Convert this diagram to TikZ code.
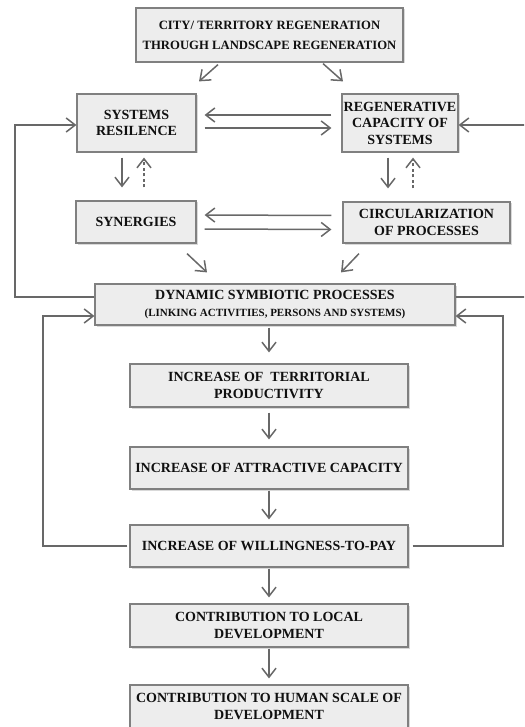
\documentclass[tikz,border=0pt]{standalone}
\usepackage{fontspec}
\setmainfont{Liberation Serif}
\usetikzlibrary{arrows.meta,shadows,calc}

\definecolor{boxfill}{HTML}{EDEDED}
\definecolor{boxline}{HTML}{808080}
\definecolor{linkgray}{HTML}{686868}
\definecolor{txtgray}{HTML}{101010}

\begin{document}
\begin{tikzpicture}[x=1pt,y=1pt]
%%%%%%%%%%%%%%%%%%%%%%%%%%%%%%%%%%%%%%%%%%%%%%%%%%%%%%%%
% STYLE
\tikzstyle{case}=[rectangle,draw=boxline,fill=boxfill,line width=1.2pt,align=center,inner sep=1pt,text=txtgray,font=\bfseries\fontsize{14}{16.5}\selectfont,drop shadow={shadow xshift=1.5pt,shadow yshift=-1.5pt,opacity=0.3}]
\tikzstyle{head}=[case,font=\bfseries\fontsize{12.7}{20}\selectfont]

\tikzset{link/.style={-{Straight Barb[length=9pt,width=14pt]},draw=linkgray,line width=1.5pt}}
\tikzset{dlink/.style={link,dash pattern=on 3pt off 2.5pt}}

\useasboundingbox (0,0) rectangle (524,-727);
\clip (0,0) rectangle (524,-727);

%%%%%%%%%%%%%%%%%%%%%%%%%%%%%%%%%%%%%%%%%%%%%%%%%%%%%%%%
% NODES
\node[head,minimum width=267,minimum height=54] (top) at (269.5,-35) {CITY/ TERRITORY REGENERATION\\THROUGH LANDSCAPE REGENERATION};

\node[case,minimum width=119,minimum height=58] (res) at (136.5,-123) {SYSTEMS\\RESILENCE};
\node[case,minimum width=116,minimum height=58] (reg) at (400,-123) {REGENERATIVE\\CAPACITY OF\\SYSTEMS};

\node[case,minimum width=120,minimum height=42] (syn) at (136,-222) {SYNERGIES};
\node[case,minimum width=167,minimum height=41] (circ) at (426.5,-222.5) {CIRCULARIZATION\\OF PROCESSES};

\node[case,minimum width=360,minimum height=41] (dsp) at (275,-304.5) {DYNAMIC SYMBIOTIC PROCESSES\\{\fontsize{11}{13}\selectfont (LINKING ACTIVITIES, PERSONS AND SYSTEMS)}};

\node[case,minimum width=278,minimum height=43] (prod) at (269,-385.5) {INCREASE OF\ \ TERRITORIAL\\PRODUCTIVITY};
\node[case,minimum width=278,minimum height=42] (attr) at (269,-468) {INCREASE OF ATTRACTIVE CAPACITY};
\node[case,minimum width=278,minimum height=42] (pay) at (269,-546) {INCREASE OF WILLINGNESS-TO-PAY};
\node[case,minimum width=278,minimum height=43] (loc) at (269,-625.5) {CONTRIBUTION TO LOCAL\\DEVELOPMENT};
\node[case,minimum width=278,minimum height=43] (hum) at (269,-706.5) {CONTRIBUTION TO HUMAN SCALE OF\\DEVELOPMENT};

\coordinate (fbl) at (15,-125);
\coordinate (fbr) at (527,-125);
\coordinate (lbl) at (43,-316);
\coordinate (lbr) at (503,-316);

%%%%%%%%%%%%%%%%%%%%%%%%%%%%%%%%%%%%%%%%%%%%%%%%%%%%%%%%
% LINKS
\draw[link] ([shift={(-51.5,-2)}]top.south) -- ([shift={(62.5,12)}]res.north);
\draw[link] ([shift={(53.5,-1)}]top.south) -- ([shift={(-57,12)}]reg.north);

\draw[link] ([shift={(-10,8)}]reg.west) -- ([shift={(8,8)}]res.east);
\draw[link] ([shift={(8,-5)}]res.east) -- ([shift={(-10,-5)}]reg.west);

\draw[link] ($(res.south)+(-14.5,-5)$) -- ($(res.south |- syn.north)+(-14.5,13)$);
\draw[dlink] ($(res.south |- syn.north)+(7.5,13)$) -- ($(res.south)+(7.5,-5)$);
\draw[link] ($(reg.south)+(-12,-5)$) -- ($(reg.south |- circ.north)+(-12,13)$);
\draw[dlink] ($(reg.south |- circ.north)+(13,13)$) -- ($(reg.south)+(13,-5)$);

\draw[link] ([shift={(-11,7)}]circ.west) -- ([shift={(8,7)}]syn.east);
\draw[link] ([shift={(8,-7)}]syn.east) -- ([shift={(-11,-7)}]circ.west);

\draw[link] ([shift={(51,-10)}]syn.south) -- ([shift={(-68,11)}]dsp.north);
\draw[link] ([shift={(-67.5,-10)}]circ.south) -- ([shift={(66,11)}]dsp.north);

% feedback
\draw[link] ([yshift=7.5pt]dsp.west) -| (fbl) -- ([yshift=-2pt]res.west);
\draw[link] ([yshift=7.5pt]dsp.east) -| (fbr) -- ([yshift=-2pt]reg.east);
\draw[link] ([xshift=-2pt]pay.west) -| (lbl) -- ([yshift=-11.5pt]dsp.west);
\draw[link] ([xshift=4pt]pay.east) -| (lbr) -- ([yshift=-11.5pt]dsp.east);

% chain
\draw[link,shorten <=2pt,shorten >=11pt] (dsp.south -| prod.north) -- (prod.north);
\draw[link,shorten <=5pt,shorten >=7pt] (prod) -- (attr);
\draw[link,shorten <=1pt,shorten >=5pt] (attr) -- (pay);
\draw[link,shorten <=1pt,shorten >=6pt] (pay) -- (loc);
\draw[link,shorten <=1pt,shorten >=6pt] (loc) -- (hum);

\end{tikzpicture}
\end{document}
